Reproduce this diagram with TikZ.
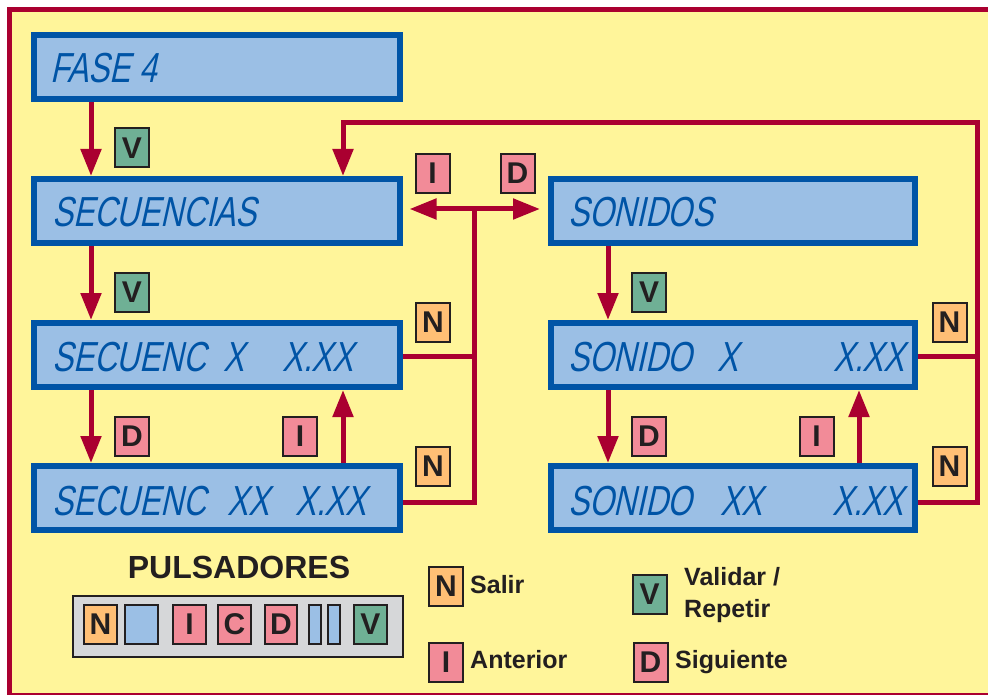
\documentclass[tikz,border=0pt]{standalone}
\usepackage{fontspec}
\setmainfont{Liberation Sans}
\newfontfamily\lcdfont[FakeSlant=0.22,FakeStretch=0.75]{Liberation Sans}
\usetikzlibrary{arrows.meta}
\definecolor{bgyel}{RGB}{255,245,154}
\definecolor{framered}{RGB}{170,0,48}
\definecolor{lcdfill}{RGB}{155,191,229}
\definecolor{lcdedge}{RGB}{0,84,166}
\definecolor{pinkk}{RGB}{242,139,152}
\definecolor{orangek}{RGB}{255,191,117}
\definecolor{greenk}{RGB}{111,176,149}
\definecolor{panelg}{RGB}{214,215,217}
\definecolor{ink}{RGB}{35,31,32}
\tikzset{
  lcd/.style={draw=lcdedge, fill=lcdfill, line width=6pt, minimum width=366pt, minimum height=64pt, inner sep=0pt},
  lcdw/.style={lcd, minimum width=364pt},
  lcdtxt/.style={font=\lcdfont\fontsize{42}{42}\selectfont, text=lcdedge, inner sep=0pt, anchor=base west},
  keybox/.style={draw=ink, line width=2pt, minimum width=34pt, minimum height=39pt, inner sep=0pt, font=\bfseries\fontsize{30}{30}\selectfont, text=ink},
  kN/.style={keybox, fill=orangek},
  kI/.style={keybox, fill=pinkk},
  kV/.style={keybox, fill=greenk},
  kB/.style={keybox, fill=lcdfill},
  legtxt/.style={font=\bfseries\fontsize{25}{25}\selectfont, text=ink, anchor=base west, inner sep=0pt},
  wire/.style={draw=framered, line width=5pt},
  arr/.style={wire, -{Triangle[width=20pt,length=27pt]}},
  arrtwo/.style={wire, {Triangle[width=20pt,length=27pt]}-{Triangle[width=20pt,length=27pt]}},
}
\begin{document}
\begin{tikzpicture}[x=1pt,y=-1pt]
\useasboundingbox (0,0) rectangle (988,695);
\clip (0,0) rectangle (988,695);
\fill[white] (0,0) rectangle (988,695);
\fill[bgyel] (7,7) rectangle (990,697);
\draw[framered, line width=5pt] (9,9.5) rectangle (1000,695.5);

% LCD displays
\node[lcd] (fase) at (216.5,67) {};
\node[lcd] (secs) at (216.5,211) {};
\node[lcdw] (sons) at (733,211) {};
\node[lcd] (secx) at (216.5,355) {};
\node[lcd] (secxx) at (216.5,498) {};
\node[lcdw] (sonx) at (733,355) {};
\node[lcdw] (sonxx) at (733,498) {};

\node[lcdtxt] (t1) at (50,83) {FASE 4};
\node[lcdtxt] (t2) at (52,227) {SECUENCIAS};
\node[lcdtxt] (t3) at (568,227) {SONIDOS};
\node[lcdtxt] (t4a) at (52,371) {SECUENC};
\node[lcdtxt] (t4b) at (223,371) {X};
\node[lcdtxt] (t4c) at (282,371) {X.XX};
\node[lcdtxt] (t5a) at (52,515) {SECUENC};
\node[lcdtxt] (t5b) at (227,515) {XX};
\node[lcdtxt] (t5c) at (295,515) {X.XX};
\node[lcdtxt] (t6a) at (568,371) {SONIDO};
\node[lcdtxt] (t6b) at (717,371) {X};
\node[lcdtxt] (t6c) at (833,371) {X.XX};
\node[lcdtxt] (t7a) at (568,515) {SONIDO};
\node[lcdtxt] (t7b) at (720,515) {XX};
\node[lcdtxt] (t7c) at (832,515) {X.XX};

% columns
\coordinate (colL) at (91,0);
\coordinate (colLu) at (343,0);
\coordinate (colR) at (608,0);
\coordinate (colRu) at (859,0);
\coordinate (busL) at (474,209);
\coordinate (busR) at (977,123);

% connectors
\draw[arr] (fase.south -| colL) -- (secs.north -| colL);
\draw[arr] (secs.south -| colL) -- (secx.north -| colL);
\draw[arr] (secx.south -| colL) -- (secxx.north -| colL);
\draw[arr] (secxx.north -| colLu) -- (secx.south -| colLu);
\draw[arr] (sons.south -| colR) -- (sonx.north -| colR);
\draw[arr] (sonx.south -| colR) -- (sonxx.north -| colR);
\draw[arr] (sonxx.north -| colRu) -- (sonx.south -| colRu);

\draw[wire] ([yshift=-1pt]secx.east) -- ([yshift=-1pt]secx.east -| busL);
\draw[wire] ([yshift=-4pt]secxx.east) -| (busL);
\draw[arrtwo, shorten <=7pt, shorten >=8pt] (secs.east |- busL) -- (sons.west |- busL);
\draw[wire] ([yshift=-1pt]sonx.east) -- ([yshift=-1pt]sonx.east -| busR);
\draw[arr] ([yshift=-4pt]sonxx.east) -| (busR) -| (secs.north -| colLu);

% key labels on the diagram
\node[kV] (v1) at (132,148) {V};
\node[kI] (i1) at (432.5,173.5) {I};
\node[kI] (d1) at (517.5,173.5) {D};
\node[kV] (v2) at (132,292.5) {V};
\node[kN] (n1) at (433,322.5) {N};
\node[kI] (d2) at (132,436.5) {D};
\node[kI] (i2) at (300,436.5) {I};
\node[kN] (n2) at (433,466.5) {N};
\node[kV] (v3) at (649,292.5) {V};
\node[kN] (n3) at (949.5,322.5) {N};
\node[kI] (d3) at (649,436.5) {D};
\node[kI] (i3) at (816.5,436.5) {I};
\node[kN] (n4) at (949.5,466.5) {N};

% pulsadores panel
\node[font=\bfseries\fontsize{32}{32}\selectfont, text=ink, anchor=base, inner sep=0pt] (pt) at (239,578) {PULSADORES};
\node[draw=ink, fill=panelg, line width=2pt, minimum width=330pt, minimum height=61pt, inner sep=0pt] (panel) at (238,626.5) {};
\node[kN, minimum width=33pt] (bN) at (100.5,624.5) {N};
\node[kB, minimum width=33pt] (bB) at (141.5,624.5) {};
\node[kI, minimum width=33pt] (bI) at (189.5,624.5) {I};
\node[kI, minimum width=33pt] (bC) at (234.5,624.5) {C};
\node[kI, minimum width=32pt] (bD) at (281,624.5) {D};
\node[kB, minimum width=12pt] (bT1) at (315,624.5) {};
\node[kB, minimum width=12pt] (bT2) at (334,624.5) {};
\node[kV, minimum width=33pt] (bV) at (370.5,624.5) {V};

% legend
\node[kN] (lN) at (446,586) {N};
\node[legtxt] (lNt) at (470,593) {Salir};
\node[kV] (lV) at (649.5,594) {V};
\node[legtxt] (lVt1) at (684,585) {Validar /};
\node[legtxt] (lVt2) at (684,617) {Repetir};
\node[kI] (lI) at (446,662.5) {I};
\node[legtxt] (lIt) at (470,668) {Anterior};
\node[kI] (lD) at (650.5,662.5) {D};
\node[legtxt] (lDt) at (675,668) {Siguiente};
\end{tikzpicture}
\end{document}
